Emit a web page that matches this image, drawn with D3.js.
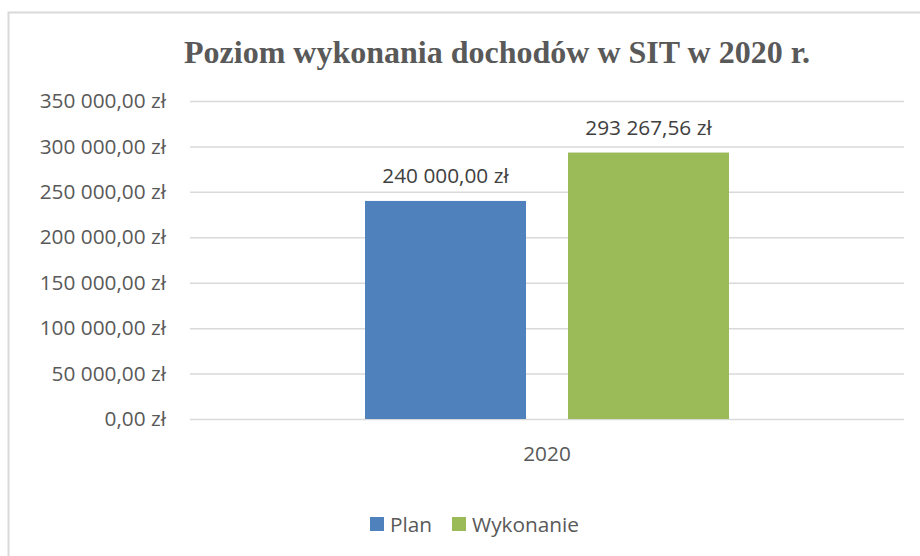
<!DOCTYPE html>
<html>
<head>
<meta charset="utf-8">
<script src="https://cdn.jsdelivr.net/npm/d3@7"></script>
<style>
  html, body { margin: 0; padding: 0; background: #fff; overflow: hidden; }
  svg { display: block; }
</style>
</head>
<body>
<svg id="chart" width="920" height="556"></svg>
<script>
const categories = ["2020"];
const seriesNames = ["Plan", "Wykonanie"];
const seriesValues = [240000, 293267.56];
const seriesColors = ["#4F81BD", "#9BBB59"];
const yTicks = [0, 50000, 100000, 150000, 200000, 250000, 300000, 350000];
const title = "Poziom wykonania dochodów w SIT w 2020 r.";

const svg = d3.select("#chart");
const textColor = "#595959";
const labelFont = "'Open Sans', 'Noto Sans', sans-serif";
const labelSize = "20.8px";

const plot = { left: 190, right: 904, top: 101, bottom: 419 };

// number like "293 267,56 zł"
const fmtZl = (v) => {
  const parts = v.toFixed(2).split(".");
  const whole = parts[0].replace(/\B(?=(\d{3})+(?!\d))/g, " ");
  return `${whole},${parts[1]} zł`;
};

// chart frame (runs past the right and bottom edge, as in the picture)
svg.append("rect")
  .attr("x", 8.5)
  .attr("y", 12.5)
  .attr("width", 1000)
  .attr("height", 1000)
  .attr("fill", "#fff")
  .attr("stroke", "#D9D9D9")
  .attr("stroke-width", 2);

svg.append("text")
  .attr("x", 497)
  .attr("y", 63)
  .attr("text-anchor", "middle")
  .attr("fill", textColor)
  .attr("font-family", "'Liberation Serif', 'Times New Roman', serif")
  .attr("font-weight", "bold")
  .attr("font-size", "32px")
  .text(title);

const y = d3.scaleLinear().domain([0, 350000]).range([plot.bottom, plot.top]);
const x0 = d3.scaleBand().domain(categories).range([plot.left, plot.right]).paddingInner(0).paddingOuter(0.4808);
const x1 = d3.scaleBand().domain(seriesNames).range([0, x0.bandwidth()]).paddingInner(0.207).paddingOuter(0);
const color = d3.scaleOrdinal().domain(seriesNames).range(seriesColors);

const yAxis = svg.append("g")
  .attr("transform", `translate(${plot.left},0)`)
  .call(d3.axisLeft(y).tickValues(yTicks).tickSize(-(plot.right - plot.left)).tickPadding(24).tickFormat(fmtZl));
yAxis.select(".domain").remove();
yAxis.selectAll(".tick line").attr("stroke", "#D9D9D9").attr("stroke-width", 1.5);
yAxis.selectAll(".tick text")
  .attr("fill", textColor)
  .attr("font-family", labelFont)
  .attr("font-size", labelSize);

const xAxis = svg.append("g")
  .attr("transform", `translate(0,${plot.bottom})`)
  .call(d3.axisBottom(x0).tickSize(0).tickPadding(27));
xAxis.select(".domain").remove();
xAxis.selectAll(".tick text")
  .attr("fill", textColor)
  .attr("font-family", labelFont)
  .attr("font-size", labelSize);

const data = categories.flatMap((cat) =>
  seriesNames.map((name, i) => ({ cat, name, value: seriesValues[i] }))
);

svg.append("g")
  .selectAll("rect")
  .data(data)
  .join("rect")
  .attr("x", (d) => x0(d.cat) + x1(d.name))
  .attr("y", (d) => y(d.value))
  .attr("width", x1.bandwidth())
  .attr("height", (d) => y(0) - y(d.value))
  .attr("fill", (d) => color(d.name));

svg.append("g")
  .selectAll("text")
  .data(data)
  .join("text")
  .attr("x", (d) => x0(d.cat) + x1(d.name) + x1.bandwidth() / 2)
  .attr("y", (d) => y(d.value) - 18)
  .attr("text-anchor", "middle")
  .attr("fill", "#404040")
  .attr("font-family", labelFont)
  .attr("font-size", labelSize)
  .text((d) => fmtZl(d.value));

// legend
const legendX = [370, 452];
const legend = svg.append("g")
  .selectAll("g")
  .data(seriesNames)
  .join("g")
  .attr("transform", (d, i) => `translate(${legendX[i]},517)`);
legend.append("rect")
  .attr("width", 14)
  .attr("height", 14)
  .attr("fill", (d) => color(d));
legend.append("text")
  .attr("x", 20)
  .attr("y", 14.5)
  .attr("fill", textColor)
  .attr("font-family", labelFont)
  .attr("font-size", labelSize)
  .text((d) => d);
</script>
</body>
</html>
